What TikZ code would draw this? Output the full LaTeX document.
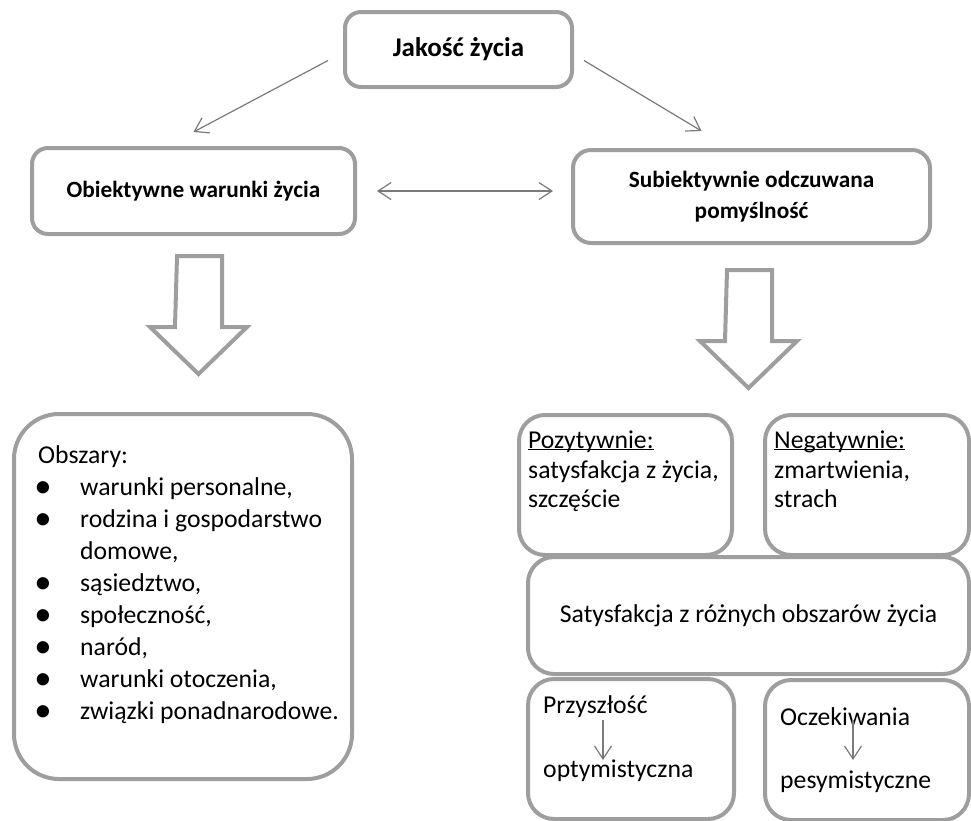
\documentclass[tikz,border=0pt]{standalone}
\usepackage{fontspec}
\setmainfont{Carlito}
\usetikzlibrary{arrows.meta,positioning}

\definecolor{boxgray}{RGB}{158,158,158}
\definecolor{linegray}{RGB}{122,122,122}

\newcommand\normaltxt{\fontsize{25.7}{31}\selectfont}
\newcommand\boldtxt{\fontsize{23.3}{31}\selectfont\bfseries}
\newcommand\titletxt{\fontsize{27}{33}\selectfont\bfseries}
\newcommand\bigbullet{\scalebox{1.35}{\textbullet}}

\tikzset{
  rbox/.style={draw=boxgray, line width=4pt, fill=white, inner sep=0pt,
    rounded corners=#1},
  rbox/.default=16pt,
  txt/.style={inner sep=0pt, anchor=base west},
  thinarrow/.style={draw=linegray, line width=1.2pt,
    -{Straight Barb[length=13pt,width=17pt]}},
  hollow/.style={draw=boxgray, line width=4pt, line join=miter},
}

\begin{document}
\begin{tikzpicture}[x=1pt,y=-1pt,every node/.style={font=\normaltxt}]
\useasboundingbox (0,0) rectangle (971,820);

% top row
\node[rbox, minimum width=227pt, minimum height=75pt, font=\titletxt] (jakosc) at (458.5,49.5) {Jakość życia};
\node[rbox, minimum width=323pt, minimum height=86pt, font=\boldtxt] (obiektywne) at (193.5,191) {Obiektywne warunki życia};
\node[rbox=18pt, minimum width=357pt, minimum height=93pt, font=\boldtxt, align=center] (subiektywne) at (751.5,196.5) {Subiektywnie odczuwana\\pomyślność};

\draw[thinarrow] ([xshift=-15pt,yshift=-11pt]jakosc.west) -- ([yshift=14pt]obiektywne.north);
\draw[thinarrow] ([xshift=10pt,yshift=-11pt]jakosc.east) -- ([xshift=-50pt,yshift=17pt]subiektywne.north);
\draw[thinarrow, {Straight Barb[length=13pt,width=17pt]}-{Straight Barb[length=13pt,width=17pt]}]
  ([xshift=20pt]obiektywne.east) -- ([xshift=-18pt]subiektywne.west |- obiektywne.east);

% big hollow arrows
\foreach \x/\y in {199.5/256, 749.5/270}
  \draw[hollow] (\x-22.5,\y) -- ++(45,0) -- ++(0,71) -- ++(25,0) -- ++(-48.5,47)
    -- ++(-48.5,-47) -- ++(25,0) -- cycle;

% left: obszary
\node[rbox=45pt, minimum width=338pt, minimum height=365pt, anchor=north west] (obszary) at (12,412) {};
\node[txt] at (38,463) {Obszary:};
\foreach \i/\t in {1/{warunki personalne,}, 2/{rodzina i gospodarstwo}, 4/{sąsiedztwo,},
    5/{społeczność,}, 6/{naród,}, 7/{warunki otoczenia,}, 8/{związki ponadnarodowe.}} {
  \node[inner sep=0pt, anchor=base] at (43,465+32*\i) {\bigbullet};
  \node[txt] at (80,463+32*\i) {\t};
}
\node[txt] at (80,463+32*3) {domowe,};

% right column
\node[rbox=26pt, minimum width=213pt, minimum height=140pt, anchor=north west] (pozytywne) at (517,413) {};
\node[rbox=26pt, minimum width=204pt, minimum height=140pt, anchor=north west] (negatywne) at (763,413) {};
\node[rbox=26pt, minimum width=441pt, minimum height=117pt, anchor=north west] (satysfakcja) at (526,555) {Satysfakcja z różnych obszarów życia};
\node[rbox=26pt, minimum width=206pt, minimum height=140pt, anchor=north west] (przyszlosc) at (526,677) {};
\node[rbox=26pt, minimum width=204pt, minimum height=140pt, anchor=north west] (oczekiwania) at (763,678) {};

\node[txt] at (528,448) {\underline{\smash{Pozytywnie:}}};
\node[txt] at (528,478) {satysfakcja z życia,};
\node[txt] at (528,507) {szczęście};
\node[txt] at (774,448) {\underline{\smash{Negatywnie:}}};
\node[txt] at (774,478) {zmartwienia,};
\node[txt] at (774,507) {strach};

\node[txt] (przyTxt) at (543,713) {Przyszłość};
\node[txt] (optTxt) at (543,777) {optymistyczna};
\node[txt] (oczTxt) at (780,725) {Oczekiwania};
\node[txt] (pesTxt) at (780,788) {pesymistyczne};

\draw[thinarrow] ([xshift=60pt,yshift=-7pt]przyTxt.base west) -- ([xshift=60pt,yshift=17pt]optTxt.base west);
\draw[thinarrow] ([xshift=73pt,yshift=5pt]oczTxt.base west) -- ([xshift=73pt,yshift=28pt]pesTxt.base west);
\end{tikzpicture}
\end{document}
